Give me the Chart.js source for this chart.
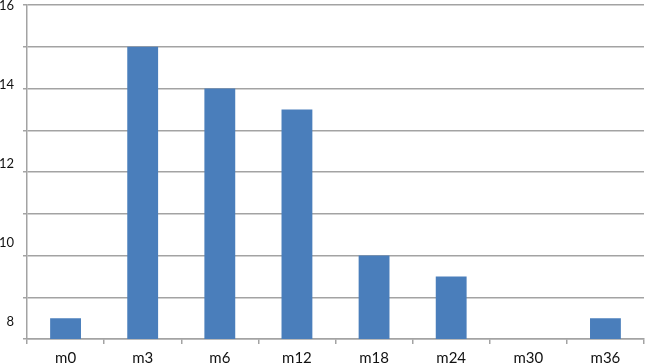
<!DOCTYPE html>
<html>
<head>
<meta charset="utf-8">
<script src="https://cdn.jsdelivr.net/npm/chart.js@4/dist/chart.umd.min.js"></script>
<style>
html,body{margin:0;padding:0;background:#fff;}
#wrap{width:646px;height:363px;}
</style>
</head>
<body>
<div id="wrap"><canvas id="c" width="646" height="363"></canvas></div>
<script>
const categories = ['m0','m3','m6','m12','m18','m24','m30','m36'];
const values = [8.5, 15, 14, 13.5, 10, 9.5, 0, 8.5];
const yTickLabels = [8, 10, 12, 14, 16];

const gridColor = '#a3a3a3';
const textColor = '#111111';
const family = 'Lato, "Liberation Sans", sans-serif';

new Chart(document.getElementById('c'), {
  type: 'bar',
  data: {
    labels: categories,
    datasets: [{
      data: values,
      backgroundColor: '#4a7ebb',
      borderWidth: 0,
      barPercentage: 0.4,
      categoryPercentage: 1.0
    }]
  },
  options: {
    responsive: false,
    animation: false,
    layout: {padding: {top: 5, right: 2, left: 0, bottom: 0}},
    plugins: {legend: {display: false}, tooltip: {enabled: false}},
    scales: {
      x: {
        offset: true,
        grid: {display: true, drawOnChartArea: false, drawTicks: true, tickLength: 5, offset: true, color: gridColor, lineWidth: 1.5},
        border: {display: true, color: gridColor, width: 1.5},
        ticks: {color: textColor, font: {family: family, size: 15}, padding: 5, maxRotation: 0},
        afterFit: (s) => { s.height = 24; }
      },
      y: {
        position: 'left',
        min: 8, max: 16,
        weight: 1,
        ticks: {stepSize: 1, display: false},
        grid: {color: gridColor, lineWidth: 1.5, drawTicks: true, tickLength: 4},
        border: {display: true, color: gridColor, width: 1.5},
        afterFit: (s) => { s.width = 4; s.paddingTop = 0; s.paddingBottom = 0; }
      },
      yl: {
        position: 'left',
        min: 7.57, max: 16.03,
        weight: 2,
        grid: {display: false, drawTicks: false},
        border: {display: false},
        ticks: {color: textColor, font: {family: family, size: 13}, padding: 9},
        afterBuildTicks: (s) => { s.ticks = yTickLabels.map(v => ({value: v})); },
        afterFit: (s) => { s.width = 23; s.paddingTop = 0; s.paddingBottom = 0; }
      }
    }
  }
});
</script>
</body>
</html>
